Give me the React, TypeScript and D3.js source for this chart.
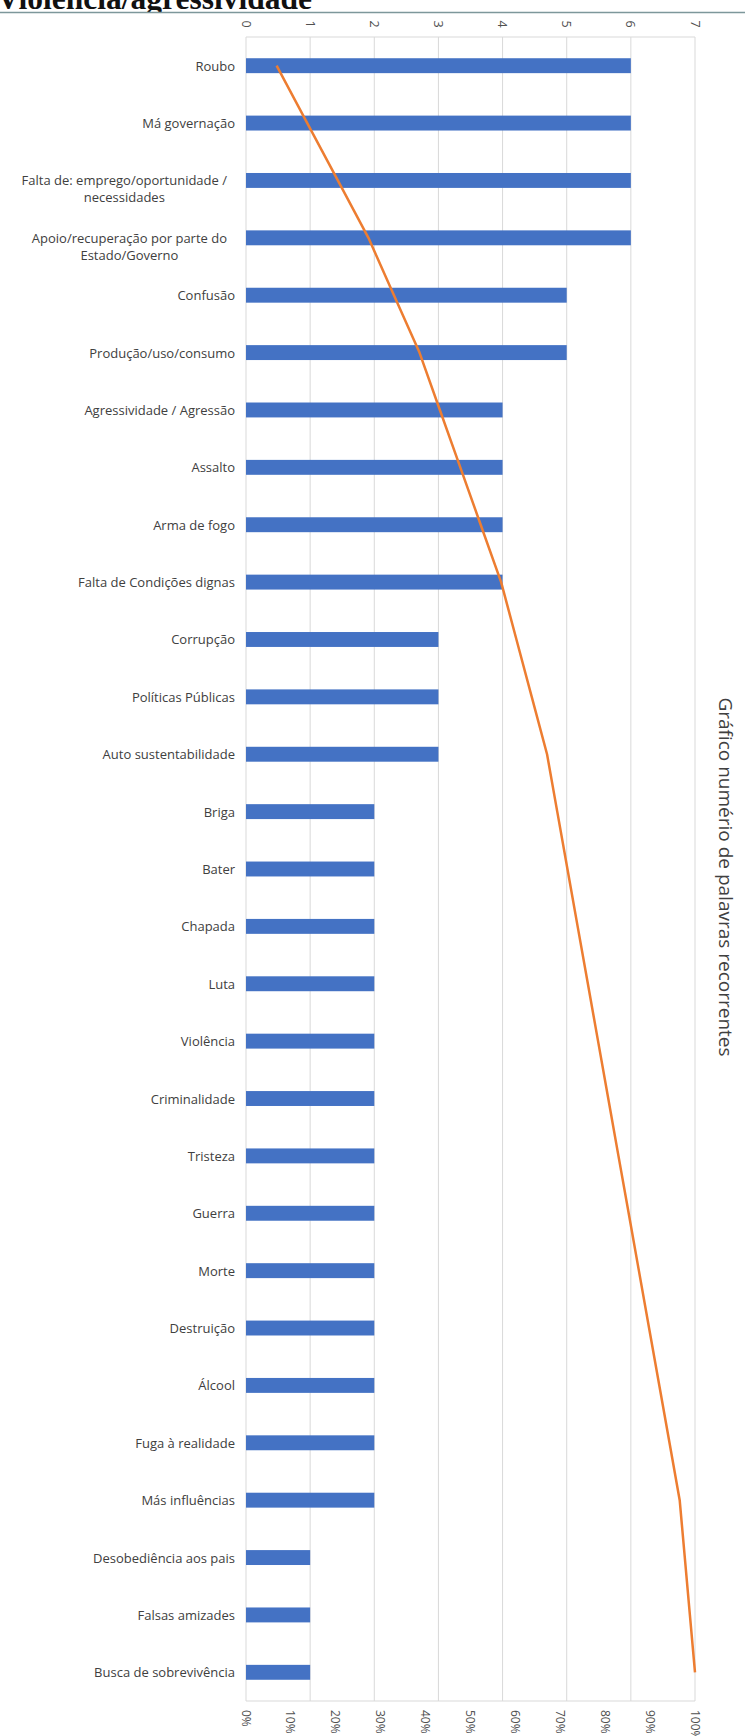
import React, { useEffect, useRef } from "react";
import * as d3 from "d3";

const title = "Violência/agressividade";
const axisTitle = "Gráfico numério de palavras recorrentes";

const categories = [
  "Roubo",
  "Má governação",
  "Falta de: emprego/oportunidade /\nnecessidades",
  "Apoio/recuperação  por parte do\nEstado/Governo",
  "Confusão",
  "Produção/uso/consumo",
  "Agressividade / Agressão",
  "Assalto",
  "Arma de fogo",
  "Falta de Condições dignas",
  "Corrupção",
  "Políticas Públicas",
  "Auto sustentabilidade",
  "Briga",
  "Bater",
  "Chapada",
  "Luta",
  "Violência",
  "Criminalidade",
  "Tristeza",
  "Guerra",
  "Morte",
  "Destruição",
  "Álcool",
  "Fuga à realidade",
  "Más influências",
  "Desobediência aos pais",
  "Falsas amizades",
  "Busca de sobrevivência",
];

const counts = [6, 6, 6, 6, 5, 5, 4, 4, 4, 4, 3, 3, 3, 2, 2, 2, 2, 2, 2, 2, 2, 2, 2, 2, 2, 2, 1, 1, 1];

const cumulativePct = [
  6.82, 13.64, 20.45, 27.27, 32.95, 38.64, 43.18, 47.73, 52.27, 56.82, 60.23, 63.64, 67.05,
  69.32, 71.59, 73.86, 76.14, 78.41, 80.68, 82.95, 85.23, 87.5, 89.77, 92.05, 94.32, 96.59,
  97.73, 98.86, 100,
];

const countTicks = [0, 1, 2, 3, 4, 5, 6, 7];
const pctTicks = [0, 10, 20, 30, 40, 50, 60, 70, 80, 90, 100];

export default function App() {
  const ref = useRef<SVGSVGElement | null>(null);

  useEffect(() => {
    const svg = d3.select(ref.current);
    svg.selectAll("*").remove();

    const W = 745;
    const top = 37;
    const bottom = 1701;
    const left = 246;
    const right = 695;
    const font = "'Open Sans', sans-serif";

    const x = d3.scaleLinear().domain([0, 7]).range([left, right]);
    const xp = d3.scaleLinear().domain([0, 100]).range([left, right]);
    const y = d3
      .scaleBand<string>()
      .domain(categories)
      .range([top, bottom])
      .paddingInner(0.74)
      .paddingOuter(0.37);

    // title
    svg
      .append("text")
      .attr("x", -3)
      .attr("y", 9)
      .attr("font-family", "'Liberation Serif', 'Times New Roman', serif")
      .attr("font-weight", "bold")
      .attr("font-size", 31.5)
      .attr("fill", "#111")
      .text(title);

    svg
      .append("rect")
      .attr("x", 0)
      .attr("y", 12)
      .attr("width", W)
      .attr("height", 30)
      .attr("fill", "#fff");

    svg
      .append("line")
      .attr("x1", 0)
      .attr("x2", W)
      .attr("y1", 12.5)
      .attr("y2", 12.5)
      .attr("stroke", "#7d979b")
      .attr("stroke-width", 1.5);

    // gridlines
    svg
      .append("g")
      .selectAll("line")
      .data(countTicks)
      .join("line")
      .attr("x1", (d) => x(d))
      .attr("x2", (d) => x(d))
      .attr("y1", top)
      .attr("y2", bottom)
      .attr("stroke", "#d9d9d9")
      .attr("stroke-width", 1);

    svg
      .append("g")
      .selectAll("line")
      .data([top, bottom])
      .join("line")
      .attr("x1", left)
      .attr("x2", right)
      .attr("y1", (d) => d)
      .attr("y2", (d) => d)
      .attr("stroke", "#d9d9d9")
      .attr("stroke-width", 1);

    // top tick labels
    svg
      .append("g")
      .selectAll("text")
      .data(countTicks)
      .join("text")
      .attr("transform", (d) => `translate(${x(d)},24) rotate(90)`)
      .attr("text-anchor", "middle")
      .attr("dominant-baseline", "central")
      .attr("font-family", font)
      .attr("font-size", 12.5)
      .attr("fill", "#505050")
      .text((d) => String(d));

    // bottom tick labels
    svg
      .append("g")
      .selectAll("text")
      .data(pctTicks)
      .join("text")
      .attr("transform", (d) => `translate(${xp(d)},${bottom + 9}) rotate(90)`)
      .attr("text-anchor", "start")
      .attr("dominant-baseline", "central")
      .attr("font-family", font)
      .attr("font-size", 12)
      .attr("fill", "#505050")
      .text((d) => `${d}%`);

    // bars
    svg
      .append("g")
      .selectAll("rect")
      .data(categories)
      .join("rect")
      .attr("x", x(0))
      .attr("y", (d) => y(d)!)
      .attr("width", (d, i) => x(counts[i]) - x(0))
      .attr("height", y.bandwidth())
      .attr("fill", "#4472c4");

    // category labels
    const labels = svg.append("g");
    categories.forEach((c) => {
      const lines = c.split("\n");
      const cy = y(c)! + y.bandwidth() / 2;
      if (lines.length === 1) {
        labels
          .append("text")
          .attr("x", 235)
          .attr("y", cy)
          .attr("text-anchor", "end")
          .attr("dominant-baseline", "central")
          .attr("font-family", font)
          .attr("font-size", 13)
          .attr("fill", "#404040")
          .text(c);
      } else {
        const t = labels
          .append("text")
          .attr("text-anchor", "middle")
          .attr("dominant-baseline", "central")
          .attr("font-family", font)
          .attr("font-size", 13)
          .attr("fill", "#404040");
        const spans = lines.map((ln, k) =>
          t
            .append("tspan")
            .attr("y", cy + k * 17)
            .attr("dominant-baseline", "central")
            .text(ln)
        );
        const widths = spans.map((s) => (s.node() as SVGTSpanElement).getComputedTextLength());
        const maxW = d3.max(widths) || 0;
        const cx = 227 - maxW / 2;
        spans.forEach((s) => s.attr("x", cx));
      }
    });

    // pareto line
    const line = d3
      .line<number>()
      .x((d) => xp(d))
      .y((d, i) => y(categories[i])! + y.bandwidth() / 2);
    svg
      .append("path")
      .datum(cumulativePct)
      .attr("d", line)
      .attr("fill", "none")
      .attr("stroke", "#ed7d31")
      .attr("stroke-width", 2.5)
      .attr("stroke-linejoin", "round");

    // right axis title
    svg
      .append("text")
      .attr("transform", `translate(726,877) rotate(90)`)
      .attr("text-anchor", "middle")
      .attr("dominant-baseline", "central")
      .attr("font-family", font)
      .attr("font-size", 19)
      .attr("fill", "#404040")
      .text(axisTitle);
  }, []);

  return (
    <svg
      ref={ref}
      width={745}
      height={1736}
      style={{ position: "absolute", left: 0, top: 0, background: "#fff" }}
    />
  );
}
